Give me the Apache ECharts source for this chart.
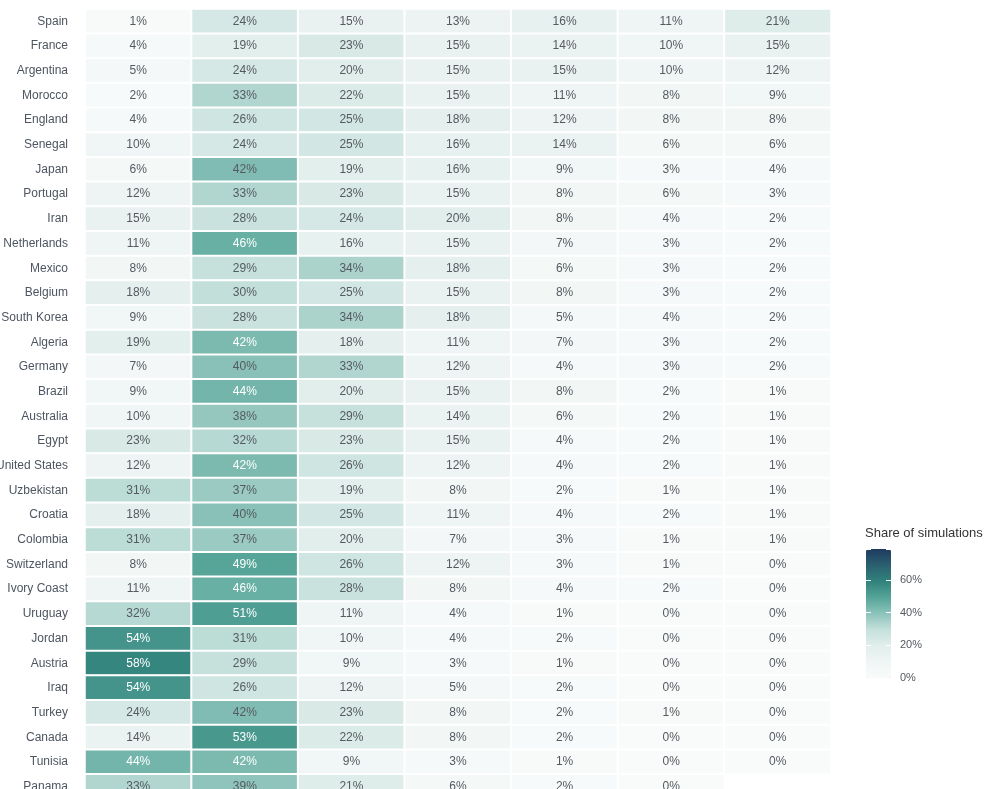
<!DOCTYPE html>
<meta charset="utf-8">
<title>Share of simulations</title>
<style>
  html, body { margin: 0; padding: 0; background: #fff; overflow: hidden; }
  #main { width: 1000px; height: 800px; }
</style>
<body>
<div id="main"></div>
<script src="https://cdn.jsdelivr.net/npm/echarts@6/dist/echarts.min.js"></script>
<script>
// teams, top to bottom
var teams = ['Spain', 'France', 'Argentina', 'Morocco', 'England', 'Senegal', 'Japan',
  'Portugal', 'Iran', 'Netherlands', 'Mexico', 'Belgium', 'South Korea', 'Algeria',
  'Germany', 'Brazil', 'Australia', 'Egypt', 'United States', 'Uzbekistan', 'Croatia',
  'Colombia', 'Switzerland', 'Ivory Coast', 'Uruguay', 'Jordan', 'Austria', 'Iraq',
  'Turkey', 'Canada', 'Tunisia', 'Panama'];

// stage of elimination (column headers are cut off in the picture)
var stages = ['Group stage', 'Round of 32', 'Round of 16', 'Quarter-final', 'Semi-final', 'Final', 'Winner'];

// share of simulations, % (one list per stage, same order as teams)
var groupStage = [1, 4, 5, 2, 4, 10, 6, 12, 15, 11, 8, 18, 9, 19, 7, 9, 10, 23, 12, 31, 18, 31, 8, 11, 32, 54, 58, 54, 24, 14, 44, 33];
var round32    = [24, 19, 24, 33, 26, 24, 41.6, 33, 28, 46, 29, 30, 28, 42.4, 40, 44, 38, 32, 42.4, 37, 40, 37, 49, 46, 51, 31, 29, 26, 41.6, 53, 42.4, 39];
var round16    = [15, 23, 20, 22, 25, 25, 19, 23, 24, 16, 34, 25, 34, 18, 33, 20, 29, 23, 26, 19, 25, 20, 26, 28, 11, 10, 9, 12, 23, 22, 9, 21];
var quarter    = [13, 15, 15, 15, 18, 16, 16, 15, 20, 15, 18, 15, 18, 11, 12, 15, 14, 15, 12, 8, 11, 7, 12, 8, 4, 4, 3, 5, 8, 8, 3, 6];
var semi       = [16, 14, 15, 11, 12, 14, 9, 8, 8, 7, 6, 8, 5, 7, 4, 8, 6, 4, 4, 2, 4, 3, 3, 4, 1, 2, 1, 2, 2, 2, 1, 2];
var finalLost  = [11, 10, 10, 8, 8, 6, 3, 6, 4, 3, 3, 3, 4, 3, 3, 2, 2, 2, 2, 1, 2, 1, 1, 2, 0, 0, 0, 0, 1, 0, 0, 0];
var winner     = [21, 15, 12, 9, 8, 6, 4, 3, 2, 2, 2, 2, 2, 2, 2, 1, 1, 1, 1, 1, 1, 1, 0, 0, 0, 0, 0, 0, 0, 0, 0, null];

var legendTicks = [0, 20, 40, 60];
var scaleMax = 79;

var columns = [groupStage, round32, round16, quarter, semi, finalLost, winner];
var data = [];
columns.forEach(function (col, ci) {
  col.forEach(function (v, ri) {
    if (v == null) return;
    data.push({
      value: [ci, ri, v],
      label: { color: v >= 42 ? '#ffffff' : '#555a60' }
    });
  });
});

var font = 'Liberation Sans, Arial, sans-serif';
var chart = echarts.init(document.getElementById('main'));
chart.setOption({
  animation: false,
  textStyle: { fontFamily: font },
  title: {
    text: 'Share of simulations',
    left: 865, top: 527,
    padding: 0,
    textStyle: { fontSize: 13, fontWeight: 'normal', color: '#333', fontFamily: font }
  },
  grid: [
    { left: 85, top: 9, width: 746, height: 790, outerBoundsMode: 'none', containLabel: false },
    { left: 866, top: 549, width: 25, height: 129, outerBoundsMode: 'none', containLabel: false }
  ],
  xAxis: [
    { type: 'category', data: stages, gridIndex: 0, show: false },
    { type: 'category', data: [''], gridIndex: 1, show: false }
  ],
  yAxis: [
    {
      type: 'category', data: teams, inverse: true, gridIndex: 0,
      axisLine: { show: false }, axisTick: { show: false },
      axisLabel: { color: '#4d5560', fontSize: 12, margin: 17, fontFamily: font }
    },
    {
      type: 'value', gridIndex: 1, min: 0, max: scaleMax, interval: 20, position: 'right',
      splitLine: { show: false }, axisLine: { show: false },
      axisTick: { show: true, inside: true, length: 5, lineStyle: { color: '#ffffff', width: 1 } },
      axisLabel: {
        color: '#555a60', fontSize: 11, margin: 9, fontFamily: font,
        formatter: function (v) { return legendTicks.indexOf(v) >= 0 ? v + '%' : ''; }
      },
      z: 5
    },
    {
      type: 'value', gridIndex: 1, min: 0, max: scaleMax, interval: 20, position: 'left',
      splitLine: { show: false }, axisLine: { show: false }, axisLabel: { show: false },
      axisTick: { show: true, inside: true, length: 5, lineStyle: { color: '#ffffff', width: 1 } },
      z: 5
    }
  ],
  visualMap: {
    type: 'continuous',
    seriesIndex: 0,
    min: 0, max: scaleMax,
    calculable: false,
    text: ['', ''],
    showLabel: false,
    left: 866, top: 549,
    itemWidth: 25, itemHeight: 129,
    padding: 0,
    inRange: {
      color: ['#f9fbfb', '#f0f6f5', '#e2eeec', '#c4e0db', '#8cc3ba', '#55a498', '#31827c', '#2a6070', '#1f3a5f']
    }
  },
  series: [{
    type: 'heatmap',
    xAxisIndex: 0, yAxisIndex: 0,
    data: data,
    itemStyle: { borderColor: '#ffffff', borderWidth: 2 },
    label: {
      show: true, fontSize: 12, fontFamily: font,
      formatter: function (p) { return Math.round(p.value[2]) + '%'; }
    },
    emphasis: { disabled: true }
  }]
});
</script>
</body>
